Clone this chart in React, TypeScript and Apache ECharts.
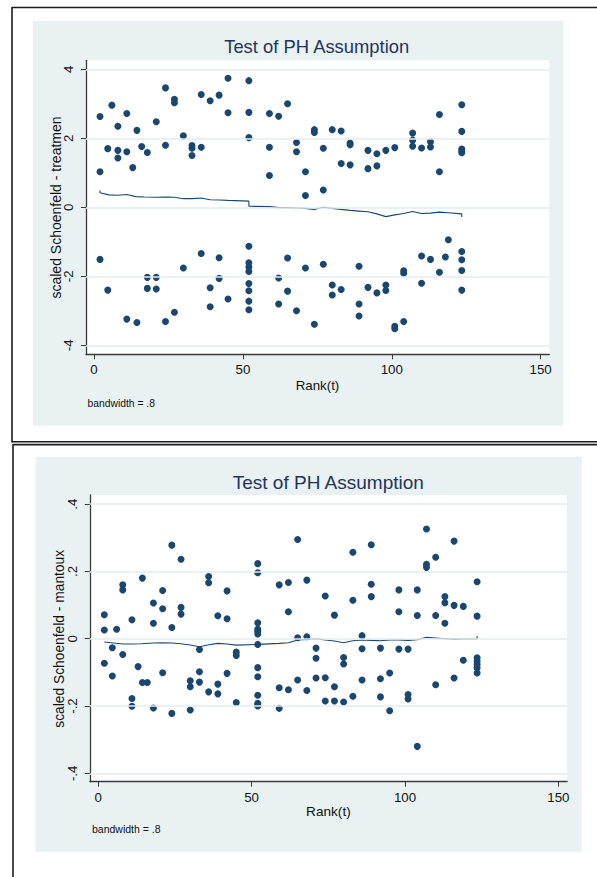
import React, { useEffect, useRef } from "react";
import * as echarts from "echarts";

// ---------- data ----------
const chartTitle = "Test of PH Assumption";
const xAxisTitle = "Rank(t)";
const bandwidthNote = "bandwidth = .8";
const topYTitle = "scaled Schoenfeld - treatmen";
const bottomYTitle = "scaled Schoenfeld - mantoux";

const xTicks = [0, 50, 100, 150];
const topYTicks = [-4, -2, 0, 2, 4];
const bottomYTicks = [-0.4, -0.2, 0, 0.2, 0.4];

// scaled Schoenfeld residuals for treatment, [rank, residual]
const treatmentPoints: [number, number][] = [
  [2, 2.63], [2, 1.03], [4.6, 1.7], [6, 2.96], [8, 2.35], [8, 1.65], [8, 1.43],
  [11, 2.72], [11, 1.61], [13, 1.15], [14.4, 2.23], [16, 1.76], [17.9, 1.59],
  [20.9, 2.48], [24, 3.46], [24, 1.8], [27, 3.13], [27, 3.03], [30, 2.07],
  [32.9, 1.79], [32.9, 1.71], [32.9, 1.5], [36, 3.27], [36, 1.74], [39, 3.09],
  [42, 3.25], [45, 3.74], [45, 2.74], [52, 3.67], [52, 2.75], [52, 2.02],
  [58.9, 2.72], [58.9, 1.74], [58.9, 0.92], [62, 2.64], [65, 3.0], [68, 1.88],
  [68, 1.61], [71, 1.03], [71, 0.34], [74, 2.25], [74, 2.17], [77, 1.71],
  [77, 0.5], [80, 2.25], [83, 2.21], [83, 1.27], [86, 1.86], [86, 1.81],
  [86, 1.23], [92, 1.65], [92, 1.12], [95, 1.55], [95, 1.2], [98, 1.65],
  [101, 1.73], [107, 2.15], [107, 1.94], [107, 1.77], [110, 1.72], [113, 1.9],
  [113, 1.75], [116, 2.69], [116, 1.03], [123.5, 2.97], [123.5, 2.2],
  [123.5, 1.69], [123.5, 1.63], [123.5, 1.58],
  [2, -1.51], [4.6, -2.4], [11, -3.24], [14.4, -3.34], [17.9, -2.03],
  [17.9, -2.35], [20.9, -2.03], [20.9, -2.37], [24, -3.31], [27, -3.04],
  [30, -1.76], [36, -1.34], [39, -2.33], [39, -2.88], [42, -1.46], [42, -2.06],
  [45, -2.66], [52, -1.13], [52, -1.61], [52, -1.73], [52, -1.86], [52, -2.21],
  [52, -2.42], [52, -2.72], [52, -2.97], [62, -2.05], [62, -2.8], [65, -1.47],
  [65, -2.43], [68, -3.0], [71, -1.76], [74, -3.39], [77, -1.65], [80, -2.25],
  [80, -2.54], [83, -2.38], [89, -1.71], [89, -2.8], [89, -3.15], [92, -2.32],
  [95, -2.48], [98, -2.25], [98, -2.41], [101, -3.45], [101, -3.52],
  [104, -1.84], [104, -1.91], [104, -3.31], [110, -1.41], [110, -2.2],
  [113, -1.51], [116, -1.88], [118, -1.44], [119, -0.94], [123.5, -1.28],
  [123.5, -1.52], [123.5, -1.83], [123.5, -2.4],
];

// smoothed curve for treatment
const treatmentSmooth: [number, number][] = [
  [2, 0.49], [2, 0.42], [5, 0.36], [8, 0.35], [11, 0.37], [14, 0.31], [17, 0.3],
  [21, 0.29], [24, 0.3], [27, 0.29], [30, 0.25], [33, 0.25], [36, 0.27],
  [39, 0.22], [42, 0.21], [45, 0.2], [52, 0.18], [52, 0.03], [59, 0.02],
  [62, -0.01], [65, -0.01], [68, -0.02], [71, -0.03], [74, -0.06], [77, 0.0],
  [80, -0.03], [83, -0.06], [86, -0.09], [89, -0.11], [92, -0.13], [95, -0.19],
  [98, -0.27], [101, -0.22], [104, -0.18], [107, -0.12], [110, -0.18],
  [113, -0.17], [116, -0.14], [119, -0.16], [123.5, -0.19], [123.5, -0.28],
];

// scaled Schoenfeld residuals for mantoux, [rank, residual]
const mantouxPoints: [number, number][] = [
  [2, 0.071], [2, 0.026], [2, -0.073], [4.6, -0.027], [4.6, -0.111], [6, 0.028],
  [8, 0.16], [8, 0.145], [8, -0.047], [11, 0.056], [11, -0.178], [11, -0.201],
  [13, -0.083], [14.4, 0.18], [14.4, -0.13], [16, -0.13], [18, 0.106],
  [18, 0.046], [18, -0.206], [21, 0.143], [21, 0.089], [21, -0.101],
  [24, 0.278], [24, 0.033], [24, -0.222], [27, 0.236], [27, 0.093], [27, 0.073],
  [30, -0.125], [30, -0.143], [30, -0.212], [33, -0.032], [33, -0.098],
  [33, -0.129], [36, 0.185], [36, 0.166], [36, -0.158], [39, 0.068],
  [39, -0.135], [39, -0.164], [42, 0.142], [42, 0.059], [42, -0.103],
  [45, -0.04], [45, -0.05], [45, -0.19], [52, 0.223], [52, 0.196], [52, 0.047],
  [52, 0.028], [52, 0.022], [52, 0.014], [52, -0.017], [52, -0.086],
  [52, -0.113], [52, -0.168], [52, -0.192], [52, -0.197], [52, -0.2],
  [59, 0.16], [59, -0.146], [59, -0.207], [62, 0.167], [62, 0.08], [62, -0.152],
  [65, 0.295], [65, 0.003], [65, -0.123], [68, 0.174], [68, 0.006],
  [68, -0.154], [71, -0.028], [71, -0.058], [71, -0.117], [74, 0.127],
  [74, -0.116], [74, -0.185], [77, 0.07], [77, -0.143], [77, -0.185],
  [80, -0.056], [80, -0.075], [80, -0.188], [83, 0.257], [83, 0.114],
  [83, -0.171], [86, 0.009], [86, -0.03], [86, -0.123], [89, 0.279],
  [89, 0.162], [89, 0.125], [92, -0.028], [92, -0.119], [92, -0.173],
  [95, -0.102], [95, -0.214], [98, 0.145], [98, 0.08], [98, -0.031],
  [101, -0.031], [101, -0.166], [101, -0.179], [104, 0.145], [104, 0.069],
  [104, -0.32], [107, 0.326], [107, 0.221], [107, 0.212], [110, 0.242],
  [110, 0.069], [110, -0.137], [113, 0.125], [113, 0.107], [113, 0.046],
  [116, 0.29], [116, 0.099], [116, -0.117], [119, 0.096], [119, -0.064],
  [123.5, 0.169], [123.5, 0.067], [123.5, -0.057], [123.5, -0.067],
  [123.5, -0.077], [123.5, -0.087], [123.5, -0.102],
];

// smoothed curve for mantoux
const mantouxSmooth: [number, number][] = [
  [2, -0.01], [5, -0.013], [8, -0.016], [11, -0.016], [14, -0.015],
  [18, -0.013], [21, -0.012], [24, -0.013], [27, -0.015], [30, -0.019],
  [33, -0.024], [36, -0.018], [39, -0.014], [42, -0.016], [45, -0.019],
  [52, -0.017], [59, -0.014], [62, -0.012], [65, -0.004], [68, -0.002],
  [71, 0.0], [74, -0.004], [77, -0.007], [80, -0.012], [83, -0.006],
  [86, -0.004], [89, -0.005], [92, -0.006], [95, -0.004], [98, -0.004],
  [101, -0.005], [104, -0.003], [107, 0.004], [110, 0.002], [113, 0.0],
  [116, -0.002], [119, -0.001], [123.5, -0.001], [123.5, 0.008],
];

// ---------- styling ----------
const FONT = '"Liberation Sans", Arial, Helvetica, sans-serif';
const NAVY = "#1a476f";
const BG = "#e9f1f3";
const GRIDLINE = "#e2ecef";
const AXIS = "#3a3a3a";
const FRAME = "#1c1c1c";
const TITLE = "#23345a";

const stataNum = (v: number) => {
  if (v === 0) return "0";
  const s = String(Math.round(v * 1000) / 1000);
  return s.replace(/^(-?)0\./, "$1.");
};

function makeXAxis(gridIndex: number, min: number, max: number) {
  return {
    type: "value",
    gridIndex,
    min,
    max,
    axisLine: { show: true, onZero: false, lineStyle: { color: AXIS, width: 1.3 } },
    axisTick: { show: true, length: 5, customValues: xTicks, lineStyle: { color: AXIS, width: 1 } },
    axisLabel: {
      show: true,
      customValues: xTicks,
      margin: 9,
      fontSize: 13.3,
      fontFamily: FONT,
      color: "#111",
      formatter: (v: number) => stataNum(v),
    },
    splitLine: { show: false },
  };
}

function makeYAxis(gridIndex: number, min: number, max: number, ticks: number[]) {
  return {
    type: "value",
    gridIndex,
    min,
    max,
    axisLine: { show: true, onZero: false, lineStyle: { color: AXIS, width: 1.3 } },
    axisTick: { show: true, length: 5, customValues: ticks, lineStyle: { color: AXIS, width: 1 } },
    axisLabel: {
      show: true,
      customValues: ticks,
      rotate: 90,
      margin: 11,
      fontSize: 13.3,
      fontFamily: FONT,
      color: "#111",
      formatter: (v: number) => stataNum(v),
    },
    splitLine: { show: false },
  };
}

function gridLines(ticks: number[]) {
  return {
    silent: true,
    symbol: "none",
    label: { show: false },
    lineStyle: { color: GRIDLINE, width: 1.6, type: "solid" },
    data: ticks.map((v) => ({ yAxis: v })),
  };
}

export default function App() {
  const ref = useRef<HTMLDivElement>(null);

  useEffect(() => {
    if (!ref.current) return;
    const chart = echarts.init(ref.current, null, { renderer: "svg" });

    const top = { left: 86, top: 60.3, width: 463.3, height: 294 };
    const bot = { left: 89.8, top: 495, width: 477.2, height: 286.7 };

    chart.setOption({
      animation: false,
      textStyle: { fontFamily: FONT },
      grid: [
        { ...top, containLabel: false, show: false },
        { ...bot, containLabel: false, show: false },
      ],
      xAxis: [makeXAxis(0, -2.7, 152.9), makeXAxis(1, -2.74, 152.8)],
      yAxis: [
        makeYAxis(0, -4.26, 4.26, topYTicks),
        makeYAxis(1, -0.425, 0.427, bottomYTicks),
      ],
      graphic: [
        // panel backgrounds
        { type: "rect", z: -20, shape: { x: 33, y: 21, width: 530.3, height: 404.7 }, style: { fill: BG } },
        { type: "rect", z: -20, shape: { x: 35.5, y: 456.8, width: 546.3, height: 395 }, style: { fill: BG } },
        // plot regions
        { type: "rect", z: -19, shape: { x: top.left, y: top.top, width: top.width, height: top.height }, style: { fill: "#fff" } },
        { type: "rect", z: -19, shape: { x: bot.left, y: bot.top, width: bot.width, height: bot.height }, style: { fill: "#fff" } },
        // frames
        { type: "line", z: 50, shape: { x1: 12, y1: 7.5, x2: 597, y2: 7.5 }, style: { stroke: FRAME, lineWidth: 1.6 } },
        { type: "line", z: 50, shape: { x1: 12, y1: 7, x2: 12, y2: 442.5 }, style: { stroke: FRAME, lineWidth: 1.6 } },
        { type: "line", z: 50, shape: { x1: 12, y1: 441.8, x2: 597, y2: 441.8 }, style: { stroke: FRAME, lineWidth: 1.6 } },
        { type: "line", z: 50, shape: { x1: 13, y1: 444.6, x2: 597, y2: 444.6 }, style: { stroke: FRAME, lineWidth: 1.6 } },
        { type: "line", z: 50, shape: { x1: 13, y1: 444, x2: 13, y2: 877 }, style: { stroke: FRAME, lineWidth: 1.6 } },
        // titles
        {
          type: "text", x: 316.7, y: 46.7,
          style: { text: chartTitle, fontSize: 18.4, fontFamily: FONT, fill: TITLE, textAlign: "center", textVerticalAlign: "middle" },
        },
        {
          type: "text", x: 328.3, y: 482.7,
          style: { text: chartTitle, fontSize: 19, fontFamily: FONT, fill: TITLE, textAlign: "center", textVerticalAlign: "middle" },
        },
        // y titles
        {
          type: "text", x: 56, y: 207.5, rotation: Math.PI / 2,
          style: { text: topYTitle, fontSize: 14, fontFamily: FONT, fill: "#111", textAlign: "center", textVerticalAlign: "middle" },
        },
        {
          type: "text", x: 59, y: 638.8, rotation: Math.PI / 2,
          style: { text: bottomYTitle, fontSize: 13.8, fontFamily: FONT, fill: "#111", textAlign: "center", textVerticalAlign: "middle" },
        },
        // x titles
        {
          type: "text", x: 317.5, y: 385.7,
          style: { text: xAxisTitle, fontSize: 13.3, fontFamily: FONT, fill: "#111", textAlign: "center", textVerticalAlign: "middle" },
        },
        {
          type: "text", x: 328.4, y: 811,
          style: { text: xAxisTitle, fontSize: 13.6, fontFamily: FONT, fill: "#111", textAlign: "center", textVerticalAlign: "middle" },
        },
        // notes
        {
          type: "text", x: 87.6, y: 403.3,
          style: { text: bandwidthNote, fontSize: 10.3, fontFamily: FONT, fill: "#111", textAlign: "left", textVerticalAlign: "middle" },
        },
        {
          type: "text", x: 92, y: 829,
          style: { text: bandwidthNote, fontSize: 10.5, fontFamily: FONT, fill: "#111", textAlign: "left", textVerticalAlign: "middle" },
        },
      ],
      series: [
        {
          type: "scatter",
          xAxisIndex: 0,
          yAxisIndex: 0,
          data: treatmentPoints,
          symbol: "circle",
          symbolSize: 7,
          itemStyle: { color: NAVY, opacity: 1 },
          markLine: gridLines(topYTicks),
          z: 3,
        },
        {
          type: "line",
          xAxisIndex: 0,
          yAxisIndex: 0,
          data: treatmentSmooth,
          showSymbol: false,
          symbol: "none",
          lineStyle: { color: NAVY, width: 1.1 },
          z: 4,
        },
        {
          type: "scatter",
          xAxisIndex: 1,
          yAxisIndex: 1,
          data: mantouxPoints,
          symbol: "circle",
          symbolSize: 7,
          itemStyle: { color: NAVY, opacity: 1 },
          markLine: gridLines(bottomYTicks),
          z: 3,
        },
        {
          type: "line",
          xAxisIndex: 1,
          yAxisIndex: 1,
          data: mantouxSmooth,
          showSymbol: false,
          symbol: "none",
          lineStyle: { color: NAVY, width: 1.1 },
          z: 4,
        },
      ],
    });

    return () => chart.dispose();
  }, []);

  return (
    <div
      ref={ref}
      style={{ position: "absolute", left: 0, top: 0, width: 597, height: 877, background: "#fff" }}
    />
  );
}
